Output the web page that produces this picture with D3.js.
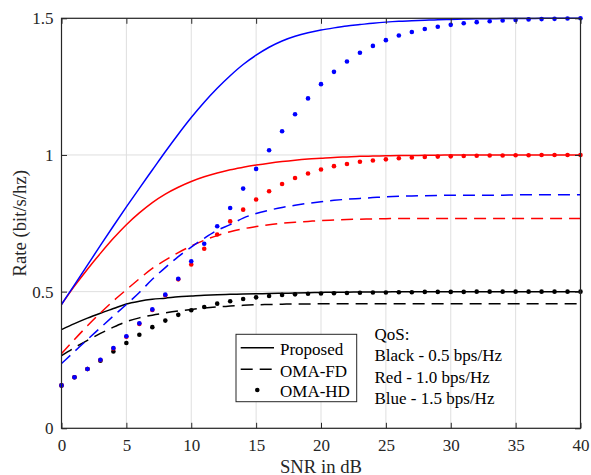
<!DOCTYPE html>
<html>
<head>
<meta charset="utf-8">
<script src="https://cdn.jsdelivr.net/npm/d3@7"></script>
<style>
  html, body { margin: 0; padding: 0; background: #fff; }
  svg { display: block; font-family: "Liberation Serif", "Times New Roman", serif; }
</style>
</head>
<body>
<svg id="chart" width="591" height="475"></svg>
<script>
// SNR sample points (dB)
const snr = [0,1,2,3,4,5,6,7,8,9,10,11,12,13,14,15,16,17,18,19,20,
             21,22,23,24,25,26,27,28,29,30,31,32,33,34,35,36,37,38,39,40];

// Proposed scheme, QoS 0.5 / 1.0 / 1.5 bps/Hz
const propBlack = [0.361,0.383,0.403,0.421,0.438,0.455,0.465,0.472,0.476,0.481,0.484,
                   0.487,0.489,0.490,0.491,0.492,0.493,0.494,0.495,0.496,0.497,
                   0.498,0.498,0.499,0.499,0.499,0.500,0.500,0.500,0.500,0.500,
                   0.500,0.500,0.500,0.500,0.500,0.500,0.500,0.500,0.500,0.500];
const propRed   = [0.453,0.520,0.582,0.640,0.695,0.745,0.788,0.826,0.857,0.882,0.903,
                   0.920,0.934,0.946,0.955,0.963,0.970,0.976,0.981,0.985,0.988,
                   0.991,0.993,0.995,0.996,0.997,0.998,0.998,0.999,0.999,1.000,
                   1.000,1.000,1.000,1.000,1.000,1.000,1.000,1.000,1.000,1.000];
const propBlue  = [0.453,0.525,0.597,0.669,0.740,0.810,0.878,0.945,1.012,1.076,1.137,
                   1.193,1.244,1.290,1.331,1.365,1.394,1.417,1.434,1.447,1.457,
                   1.465,1.472,1.477,1.482,1.486,1.489,1.491,1.493,1.495,1.496,
                   1.497,1.498,1.498,1.499,1.499,1.499,1.500,1.500,1.500,1.500];

// OMA full duplex
const fdBlack = [0.266,0.295,0.322,0.347,0.370,0.390,0.404,0.414,0.422,0.429,0.435,
                 0.440,0.444,0.447,0.450,0.452,0.453,0.454,0.455,0.455,0.456,
                 0.456,0.456,0.456,0.456,0.456,0.456,0.456,0.456,0.456,0.456,
                 0.456,0.456,0.456,0.456,0.456,0.456,0.456,0.456,0.456,0.456];
const fdRed   = [0.273,0.325,0.375,0.422,0.466,0.507,0.547,0.585,0.615,0.643,0.667,
                 0.688,0.705,0.719,0.730,0.738,0.745,0.750,0.754,0.757,0.760,
                 0.762,0.764,0.765,0.766,0.767,0.768,0.768,0.768,0.768,0.768,
                 0.768,0.768,0.768,0.768,0.768,0.768,0.768,0.768,0.768,0.768];
const fdBlue  = [0.237,0.281,0.325,0.368,0.411,0.453,0.497,0.545,0.588,0.628,0.663,
                 0.695,0.724,0.745,0.769,0.786,0.798,0.808,0.816,0.823,0.829,
                 0.834,0.838,0.841,0.844,0.847,0.849,0.850,0.851,0.852,0.853,
                 0.853,0.853,0.853,0.853,0.854,0.854,0.854,0.854,0.854,0.854];

// OMA half duplex
const hdBlack = [0.157,0.187,0.217,0.247,0.281,0.312,0.342,0.370,0.394,0.415,0.432,
                 0.444,0.456,0.465,0.473,0.479,0.484,0.488,0.490,0.492,0.493,
                 0.494,0.495,0.496,0.497,0.497,0.498,0.498,0.499,0.499,0.499,
                 0.499,0.500,0.500,0.500,0.500,0.500,0.500,0.500,0.500,0.500];
const hdRed   = [0.157,0.187,0.217,0.250,0.292,0.335,0.382,0.433,0.487,0.545,0.599,
                 0.657,0.709,0.757,0.800,0.837,0.867,0.894,0.916,0.932,0.947,
                 0.959,0.967,0.975,0.980,0.984,0.988,0.991,0.993,0.994,0.995,
                 0.996,0.997,0.998,0.998,0.999,0.999,1.000,1.000,1.000,1.000];
const hdBlue  = [0.157,0.187,0.217,0.251,0.294,0.337,0.384,0.435,0.489,0.547,0.611,
                 0.675,0.739,0.806,0.877,0.949,1.017,1.087,1.149,1.207,1.259,
                 1.304,1.342,1.374,1.399,1.420,1.437,1.450,1.461,1.469,1.476,
                 1.482,1.486,1.489,1.492,1.494,1.496,1.497,1.498,1.499,1.500];

const xTicks = [0,5,10,15,20,25,30,35,40];
const yTicks = [0,0.5,1,1.5];
const legendLabels = ["Proposed","OMA-FD","OMA-HD"];
const qosLines = ["QoS:","Black - 0.5 bps/Hz","Red - 1.0 bps/Hz","Blue - 1.5 bps/Hz"];

const svg = d3.select("#chart");
const L = 61.5, R = 580.5, T = 18.3, B = 428.3;
const x = d3.scaleLinear().domain([0,40]).range([L,R]);
const y = d3.scaleLinear().domain([0,1.5]).range([B,T]);
const axisColor = "#262626";
const gridColor = "#dfdfdf";

// grid
const grid = svg.append("g");
grid.selectAll(".gx").data(xTicks).join("line")
  .attr("x1", d => x(d)).attr("x2", d => x(d)).attr("y1", T).attr("y2", B)
  .attr("stroke", gridColor).attr("stroke-width", 1);
grid.selectAll(".gy").data(yTicks).join("line")
  .attr("y1", d => y(d)).attr("y2", d => y(d)).attr("x1", L).attr("x2", R)
  .attr("stroke", gridColor).attr("stroke-width", 1);

// series
const line = d3.line().x((d,i) => x(snr[i])).y(d => y(d)).curve(d3.curveMonotoneX);
const groups = [
  {c:"#000000", p:propBlack, f:fdBlack, h:hdBlack},
  {c:"#ff0000", p:propRed,   f:fdRed,   h:hdRed},
  {c:"#0000ff", p:propBlue,  f:fdBlue,  h:hdBlue}
];
const plot = svg.append("g");
groups.forEach(g => {
  plot.append("path").attr("d", line(g.p)).attr("fill","none")
    .attr("stroke", g.c).attr("stroke-width", 1.5);
  plot.append("path").attr("d", line(g.f)).attr("fill","none")
    .attr("stroke", g.c).attr("stroke-width", 1.5).attr("stroke-dasharray","12,7");
  plot.append("g").selectAll("circle").data(g.h).join("circle")
    .attr("cx", (d,i) => x(snr[i])).attr("cy", d => y(d)).attr("r", 2.3)
    .attr("fill", g.c);
});

// axes with inward ticks
const tickLen = 5.5;
const styleAxis = (sel) => {
  sel.select(".domain").remove();
  sel.selectAll(".tick line").attr("stroke", axisColor);
  sel.selectAll(".tick text").attr("fill", axisColor)
     .style("font-family", '"Liberation Serif", "Times New Roman", serif')
     .style("font-size", "17px");
};
svg.append("g").attr("transform", `translate(0,${B})`)
  .call(d3.axisBottom(x).tickValues(xTicks).tickSize(-tickLen).tickPadding(11).tickFormat(d3.format("d")))
  .call(styleAxis);
svg.append("g").attr("transform", `translate(0,${T})`)
  .call(d3.axisTop(x).tickValues(xTicks).tickSize(-tickLen).tickFormat(""))
  .call(styleAxis);
svg.append("g").attr("transform", `translate(${L},0)`)
  .call(d3.axisLeft(y).tickValues(yTicks).tickSize(-tickLen).tickPadding(8).tickFormat(d => d3.format("")(d)))
  .call(styleAxis);
svg.append("g").attr("transform", `translate(${R},0)`)
  .call(d3.axisRight(y).tickValues(yTicks).tickSize(-tickLen).tickFormat(""))
  .call(styleAxis);

// frame
svg.append("rect").attr("x", L).attr("y", T).attr("width", R-L).attr("height", B-T)
  .attr("fill","none").attr("stroke", axisColor).attr("stroke-width", 1.2);

// axis titles
svg.append("text").attr("x", (L+R)/2).attr("y", 472.5).attr("text-anchor","middle")
  .attr("fill", axisColor).style("font-size","18.7px").text("SNR in dB");
svg.append("text").attr("transform", `translate(26,${(T+B)/2}) rotate(-90)`)
  .attr("text-anchor","middle").attr("fill", axisColor).style("font-size","18.7px")
  .text("Rate (bit/s/hz)");

// legend
const lg = svg.append("g");
lg.append("rect").attr("x",236).attr("y",334.3).attr("width",120.7).attr("height",67.4)
  .attr("fill","#fff").attr("stroke", axisColor).attr("stroke-width",1);
const rowY = [347.7, 369.3, 390];
const baseY = [355, 376.7, 396.5];
lg.append("line").attr("x1",240.7).attr("x2",274).attr("y1",rowY[0]).attr("y2",rowY[0])
  .attr("stroke","#000").attr("stroke-width",1.5);
lg.append("line").attr("x1",240.7).attr("x2",274).attr("y1",rowY[1]).attr("y2",rowY[1])
  .attr("stroke","#000").attr("stroke-width",1.5).attr("stroke-dasharray","12,7");
lg.append("circle").attr("cx",257.3).attr("cy",rowY[2]).attr("r",2.3).attr("fill","#000");
lg.selectAll(".lt").data(legendLabels).join("text")
  .attr("x",280).attr("y",(d,i) => baseY[i]).attr("fill","#000")
  .style("font-size","17px").text(d => d);

// QoS note
svg.append("g").selectAll("text").data(qosLines).join("text")
  .attr("x",374.5).attr("y",(d,i) => 339.5 + i*21.6).attr("fill","#000")
  .style("font-size","17px").text(d => d);
</script>
</body>
</html>
